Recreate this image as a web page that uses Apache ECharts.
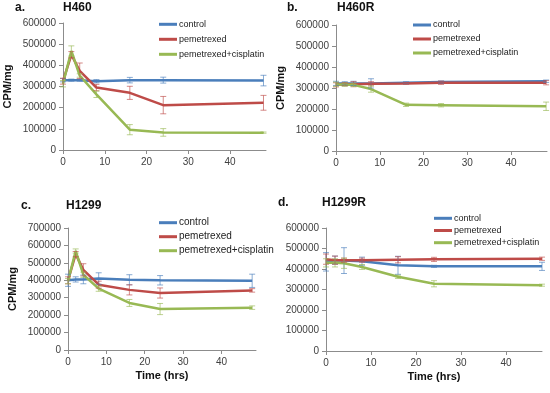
<!DOCTYPE html>
<html>
<head>
<meta charset="utf-8">
<script src="https://cdn.jsdelivr.net/npm/echarts@6/dist/echarts.min.js"></script>
<style>
    html, body { margin: 0; padding: 0; background: #fff; }
    #chart { width: 550px; height: 393px; }
</style>
</head>
<body>
<div id="chart"></div>
<script>
// time points (hrs)
const times = [0, 2, 4, 8, 16, 24, 48];
const seriesNames = ['control', 'pemetrexed', 'pemetrexed+cisplatin'];
const xTicks = [0, 10, 20, 30, 40];

// a. H460
const aControl = [330000, 330000, 330000, 325000, 330000, 330000, 328000];
const aControlErr = [8000, 5000, 5000, 8000, 13000, 14000, 25000];
const aPem = [325000, 450000, 374000, 295000, 270000, 212000, 223000];
const aPemErr = [14000, 15000, 37000, 15000, 31000, 41000, 35000];
const aCis = [313000, 468000, 352000, 263000, 96000, 83000, 82000];
const aCisErr = [15000, 24000, 8000, 15000, 24000, 18000, 3000];

// b. H460R
const bControl = [322000, 322000, 322000, 322000, 325000, 328000, 332000];
const bControlErr = [10000, 8000, 10000, 22000, 5000, 5000, 6000];
const bPem = [315000, 318000, 318000, 320000, 322000, 325000, 325000];
const bPemErr = [10000, 8000, 12000, 10000, 4000, 8000, 10000];
const bCis = [318000, 316000, 315000, 295000, 220000, 218000, 213000];
const bCisErr = [10000, 8000, 8000, 15000, 8000, 8000, 20000];

// c. H1299
const cControl = [400000, 405000, 405000, 410000, 403000, 400000, 397000];
const cControlErr = [35000, 15000, 25000, 33000, 29000, 27000, 38000];
const cPem = [400000, 550000, 460000, 375000, 345000, 327000, 342000];
const cPemErr = [20000, 15000, 35000, 20000, 29000, 29000, 10000];
const cCis = [395000, 568000, 432000, 352000, 270000, 235000, 243000];
const cCisErr = [15000, 12000, 15000, 15000, 20000, 32000, 10000];

// d. H1299R
const dControl = [435000, 443000, 441000, 438000, 418000, 413000, 413000];
const dControlErr = [45000, 20000, 63000, 20000, 44000, 5000, 20000];
const dPem = [448000, 443000, 443000, 443000, 445000, 447000, 450000];
const dPemErr = [25000, 20000, 10000, 10000, 15000, 10000, 8000];
const dCis = [430000, 430000, 428000, 410000, 362000, 328000, 321000];
const dCisErr = [20000, 20000, 25000, 12000, 8000, 15000, 5000];

const colors = ['#4A7EBB', '#BE4B48', '#98B954'];
const font = "'Liberation Sans', Arial, sans-serif";

const panels = [
    {
        letter: 'a.', name: 'H460', letterX: 15, nameX: 63, titleY: 2,
        grid: { left: 63, top: 23, width: 203, height: 127 }, xMax: 48.6, yMax: 600000,
        yName: 'CPM/mg', xName: '',
        legend: { left: 159, top: 18.3, itemGap: 3, fontSize: 9 },
        vals: [aControl, aPem, aCis], errs: [aControlErr, aPemErr, aCisErr]
    },
    {
        letter: 'b.', name: 'H460R', letterX: 287, nameX: 337, titleY: 2,
        grid: { left: 336, top: 25, width: 211, height: 126 }, xMax: 48.2, yMax: 600000,
        yName: 'CPM/mg', xName: '',
        legend: { left: 413, top: 19, itemGap: 2, fontSize: 9 },
        vals: [bControl, bPem, bCis], errs: [bControlErr, bPemErr, bCisErr]
    },
    {
        letter: 'c.', name: 'H1299', letterX: 21, nameX: 66, titleY: 200,
        grid: { left: 68, top: 228, width: 188, height: 122 }, xMax: 49, yMax: 700000,
        yName: 'CPM/mg', xName: 'Time (hrs)',
        legend: { left: 159, top: 216.7, itemGap: 2, fontSize: 10 },
        vals: [cControl, cPem, cCis], errs: [cControlErr, cPemErr, cCisErr]
    },
    {
        letter: 'd.', name: 'H1299R', letterX: 278, nameX: 322, titleY: 197,
        grid: { left: 326, top: 228, width: 216, height: 123 }, xMax: 48, yMax: 600000,
        yName: '', xName: 'Time (hrs)',
        legend: { left: 434, top: 212.3, itemGap: 0.2, fontSize: 9 },
        vals: [dControl, dPem, dCis], errs: [dControlErr, dPemErr, dCisErr]
    }
];

const axisGray = '#8c8c8c';
const labelStyle = { color: '#404040', fontSize: 10, fontFamily: font };

let title = [], grid = [], xAxis = [], yAxis = [], legend = [], series = [];

panels.forEach((p, i) => {
    title.push({ text: p.letter, left: p.letterX, top: p.titleY, padding: 0,
        textStyle: { fontSize: 12, fontWeight: 'bold', fontFamily: font, color: '#111' } });
    title.push({ text: p.name, left: p.nameX, top: p.titleY, padding: 0,
        textStyle: { fontSize: 12, fontWeight: 'bold', fontFamily: font, color: '#111' } });
    grid.push(p.grid);
    xAxis.push({
        gridIndex: i, type: 'value', min: 0, max: p.xMax, interval: 10,
        name: p.xName, nameLocation: 'middle', nameGap: 20,
        nameTextStyle: { fontSize: 11, fontWeight: 'bold', fontFamily: font, color: '#111' },
        axisLine: { lineStyle: { color: axisGray } },
        axisTick: { show: true, length: 4, customValues: xTicks, lineStyle: { color: axisGray } },
        axisLabel: Object.assign({ margin: 7, customValues: xTicks }, labelStyle),
        splitLine: { show: false }
    });
    yAxis.push({
        gridIndex: i, type: 'value', min: 0, max: p.yMax, interval: 100000,
        name: p.yName, nameLocation: 'middle', nameGap: 50, nameRotate: 90,
        nameTextStyle: { fontSize: 11, fontWeight: 'bold', fontFamily: font, color: '#111' },
        axisLine: { show: true, lineStyle: { color: axisGray } },
        axisTick: { show: true, length: 4, lineStyle: { color: axisGray } },
        axisLabel: Object.assign({ margin: 7, formatter: v => String(v) }, labelStyle),
        splitLine: { show: false }
    });
    legend.push({
        data: seriesNames, orient: 'vertical', left: p.legend.left, top: p.legend.top,
        icon: 'rect', itemWidth: 18, itemHeight: 3, itemGap: p.legend.itemGap, padding: 0,
        textStyle: { fontSize: p.legend.fontSize, lineHeight: 12, fontFamily: font, color: '#222', padding: [0, 0, 0, -3] }
    });
    seriesNames.forEach((nm, k) => {
        series.push({
            name: nm, type: 'line', xAxisIndex: i, yAxisIndex: i,
            data: times.map((t, j) => [t, p.vals[k][j]]),
            showSymbol: false, symbol: 'none',
            lineStyle: { width: 2.5, color: colors[k] },
            itemStyle: { color: colors[k] },
            z: 2 + k
        });
    });
    seriesNames.forEach((nm, k) => {
        series.push({
            type: 'custom', xAxisIndex: i, yAxisIndex: i, z: 6,
            data: times.map((t, j) => [t, p.vals[k][j] - p.errs[k][j], p.vals[k][j] + p.errs[k][j]]),
            encode: { x: 0, y: [1, 2] },
            renderItem: (params, api) => {
                const lo = api.coord([api.value(0), api.value(1)]);
                const hi = api.coord([api.value(0), api.value(2)]);
                const st = { stroke: colors[k], lineWidth: 1, opacity: 0.65 };
                return {
                    type: 'group', children: [
                        { type: 'line', shape: { x1: lo[0], y1: lo[1], x2: hi[0], y2: hi[1] }, style: st },
                        { type: 'line', shape: { x1: lo[0] - 3, y1: lo[1], x2: lo[0] + 3, y2: lo[1] }, style: st },
                        { type: 'line', shape: { x1: hi[0] - 3, y1: hi[1], x2: hi[0] + 3, y2: hi[1] }, style: st }
                    ]
                };
            }
        });
    });
});

const myChart = echarts.init(document.getElementById('chart'));
myChart.setOption({
    animation: false,
    backgroundColor: '#fff',
    title, grid, xAxis, yAxis, legend, series
});
</script>
</body>
</html>
